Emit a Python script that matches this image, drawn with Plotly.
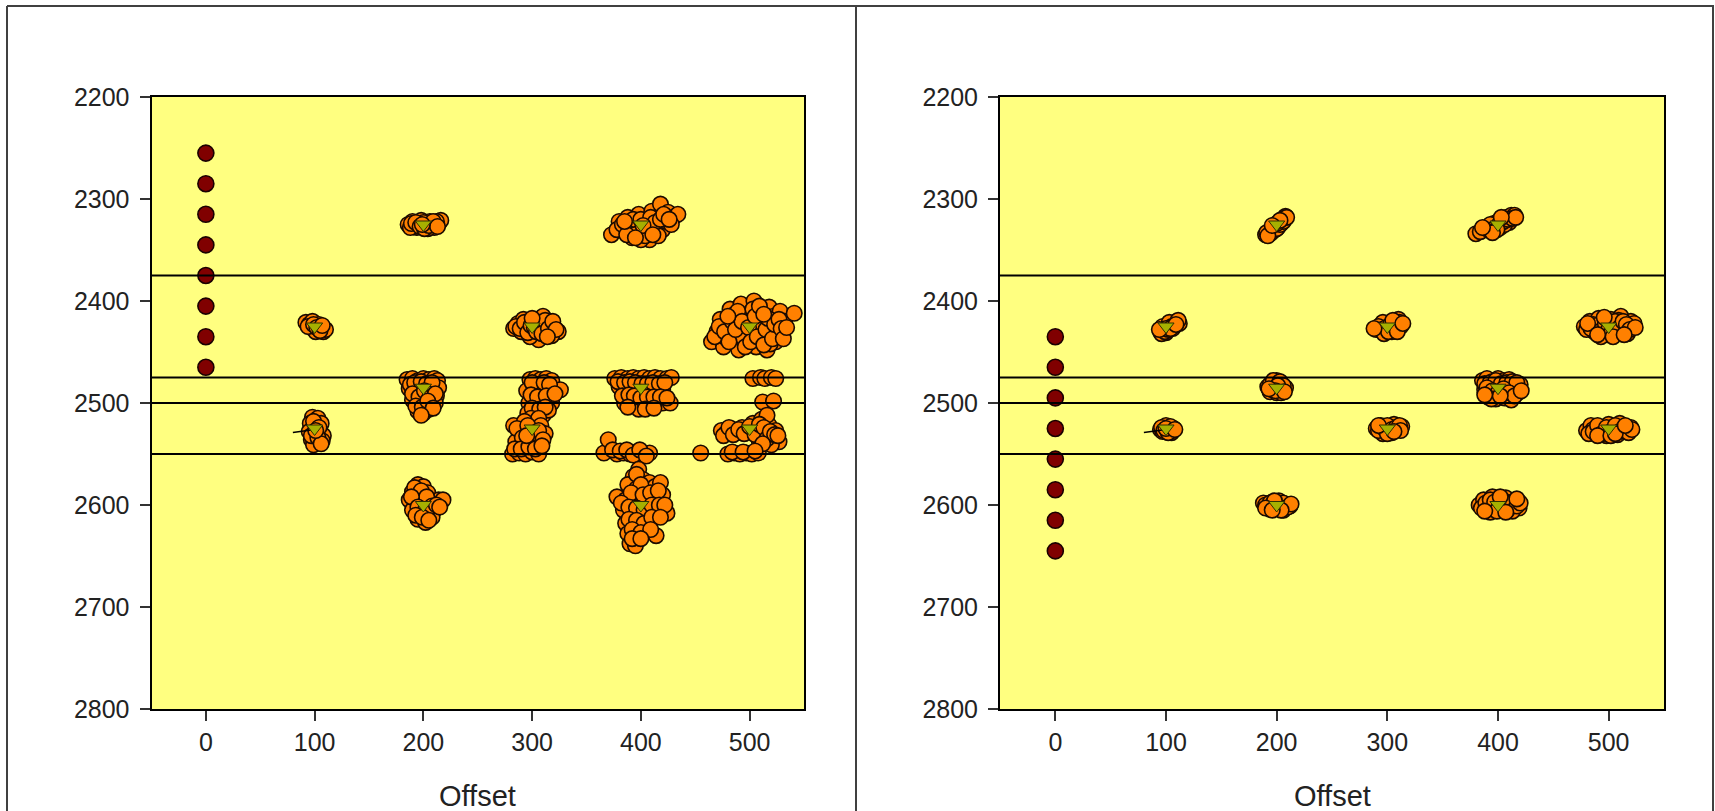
import plotly.graph_objects as go

# ---------------- data ----------------
offset_ticks = [0, 100, 200, 300, 400, 500]
depth_ticks = [2200, 2300, 2400, 2500, 2600, 2700, 2800]
ref_levels = [2375, 2475, 2500, 2550]

tri_x = [100, 100, 200, 200, 200, 300, 300, 400, 400, 400, 500, 500]
tri_y = [2425, 2525, 2325, 2485, 2600, 2425, 2525, 2325, 2485, 2600, 2425, 2525]

left_red_y = [2255, 2285, 2315, 2345, 2375, 2405, 2435, 2465]
right_red_y = [2435, 2465, 2495, 2525, 2555, 2585, 2615, 2645]

short_line = [(80, 2529), (100, 2526)]

# left panel clusters
L_200_2325 = [(186,2325),(190,2322),(194,2328),(198,2321),(202,2326),(206,2322),(210,2328),(214,2324),(216,2321),(192,2327),(204,2329),(200,2323),(196,2325),(208,2325),(188,2328),(212,2322),
              (189,2324),(193,2323),(197,2327),(201,2329),(205,2326),(209,2322),(213,2327),(199,2325)]
L_400_2325 = [(373,2335),(380,2322),(385,2330),(388,2318),(392,2338),(395,2326),(398,2315),(402,2332),(405,2322),(408,2340),(410,2312),(412,2328),(415,2318),(418,2305),(420,2330),(423,2322),(425,2313),(430,2318),(434,2315),(400,2340),(390,2325),(416,2336),(406,2327),(397,2333),(428,2325),
              (378,2330),(383,2325),(387,2335),(393,2320),(400,2320),(404,2336),(409,2318),(413,2323),(418,2320),(421,2315),(426,2320),(402,2326),(395,2338),(411,2335),(385,2322)]
L_100_2425 = [(92,2421),(95,2423),(98,2420),(100,2425),(103,2428),(106,2426),(108,2430),(110,2428),(97,2426),(104,2423),(101,2430),
              (94,2425),(99,2423),(102,2426),(105,2429),(107,2424)]
L_300_2425 = [(283,2427),(287,2422),(290,2430),(294,2425),(297,2419),(300,2428),(303,2433),(305,2418),(308,2425),(310,2415),(313,2430),(316,2420),(320,2426),(324,2430),(306,2438),(298,2435),(292,2418),(318,2434),(311,2424),(301,2421),
              (285,2425),(289,2427),(293,2421),(296,2431),(299,2424),(302,2426),(304,2430),(307,2421),(309,2432),(312,2419),(315,2427),(319,2420),(322,2428),(300,2417),(314,2435)]
L_500_2425 = [(465,2440),(470,2430),(473,2418),(476,2445),(480,2425),(482,2408),(485,2435),(488,2418),(490,2448),(492,2403),(495,2428),(497,2440),(498,2413),(500,2420),(502,2432),(504,2400),(506,2445),(508,2425),(510,2412),(512,2436),(514,2420),(516,2448),(518,2406),(520,2430),(522,2415),(524,2440),(526,2425),(528,2410),(530,2432),(532,2420),(541,2412),(486,2413),(494,2436),(478,2436),(511,2428),(503,2408),(519,2442),(525,2432),
              (468,2435),(472,2425),(477,2430),(481,2440),(484,2420),(487,2428),(489,2410),(493,2420),(496,2445),(499,2426),(501,2440),(505,2415),(507,2435),(509,2405),(513,2443),(515,2428),(517,2417),(521,2437),(523,2423),(527,2418),(529,2427),(531,2437),(534,2426),(513,2413),(480,2415)]
L_100_2525 = [(98,2514),(103,2515),(96,2520),(101,2522),(106,2520),(95,2528),(100,2530),(105,2527),(108,2532),(97,2536),(102,2538),(107,2537),(99,2541),
              (99,2518),(104,2524),(97,2532),(103,2534),(106,2540),(101,2527)]
L_200_2485 = [(185,2477),(190,2476),(195,2478),(200,2476),(205,2477),(210,2476),(213,2478),(187,2486),(193,2490),(198,2484),(203,2492),(208,2488),(212,2493),(190,2497),(196,2500),(201,2498),(206,2502),(211,2500),(195,2508),(200,2510),(205,2506),(188,2482),(214,2485),
              (192,2480),(198,2479),(203,2481),(208,2480),(190,2491),(196,2494),(201,2488),(206,2495),(211,2491),(193,2503),(199,2504),(204,2498),(209,2505),(198,2512)]
L_200_2600 = [(195,2580),(200,2582),(190,2587),(197,2590),(204,2588),(187,2595),(193,2597),(200,2600),(207,2597),(214,2595),(218,2595),(190,2605),(197,2607),(203,2610),(210,2605),(195,2614),(202,2617),(208,2612),
              (192,2583),(198,2586),(203,2592),(189,2592),(195,2602),(202,2605),(208,2601),(212,2600),(193,2610),(199,2612),(205,2615),(215,2602)]
L_300_2500 = [(298,2477),(303,2476),(308,2477),(313,2476),(318,2478),(295,2488),(302,2485),(310,2490),(317,2486),(326,2487),(306,2482),(297,2500),(302,2498),(308,2502),(313,2497),(318,2500),(296,2510),(303,2508),(310,2512),(315,2507),
              (300,2480),(311,2480),(316,2482),(299,2492),(305,2494),(313,2493),(321,2491),(300,2505),(307,2506),(312,2504),(299,2515),(306,2515)]
L_300_2525 = [(283,2522),(288,2530),(293,2518),(298,2527),(303,2533),(308,2522),(312,2530),(285,2538),(292,2540),(300,2537),(282,2550),(288,2549),(294,2550),(300,2548),(306,2550),
              (286,2525),(291,2534),(296,2522),(301,2530),(306,2527),(310,2536),(284,2545),(290,2545),(297,2543),(303,2545),(309,2542),(295,2532)]
L_400_2485 = [(376,2476),(382,2475),(388,2476),(393,2475),(398,2476),(403,2475),(408,2476),(413,2475),(418,2476),(424,2476),(428,2475),(380,2484),(386,2488),(392,2482),(397,2487),(403,2485),(409,2489),(415,2483),(420,2487),(385,2500),(390,2498),(395,2500),(400,2502),(405,2499),(410,2500),(415,2499),(420,2500),(427,2500),(398,2506),
              (379,2479),(385,2480),(390,2479),(395,2480),(401,2481),(406,2481),(411,2480),(417,2481),(422,2480),(383,2493),(389,2492),(394,2493),(400,2495),(406,2494),(412,2494),(418,2494),(424,2495),(388,2504),(404,2506),(412,2505)]
L_400_2550 = [(366,2549),(370,2536),(378,2550),(384,2549),(390,2550),(396,2548),(402,2550),(408,2549),
              (374,2546),(381,2547),(387,2546),(393,2551),(399,2546),(405,2552)]
L_400_2600 = [(398,2565),(393,2572),(402,2575),(408,2578),(388,2580),(396,2584),(405,2585),(413,2582),(418,2578),(378,2592),(386,2595),(393,2598),(400,2600),(407,2596),(414,2593),(420,2590),(384,2605),(391,2610),(398,2607),(405,2612),(412,2606),(424,2608),(386,2618),(393,2620),(400,2622),(408,2617),(388,2628),(396,2630),(404,2626),(414,2630),(390,2638),(395,2640),
              (396,2570),(400,2580),(391,2588),(402,2590),(409,2588),(416,2586),(382,2598),(389,2602),(396,2603),(403,2605),(410,2600),(417,2600),(422,2600),(389,2614),(396,2615),(403,2618),(410,2612),(418,2612),(392,2624),(400,2627),(409,2624),(392,2633),(400,2633)]
L_500_2500 = [(503,2476),(510,2475),(514,2476),(520,2475),(524,2476),(512,2499),(522,2498)]
L_500_2525 = [(474,2527),(478,2530),(483,2525),(488,2529),(493,2524),(498,2528),(503,2520),(507,2526),(511,2516),(514,2530),(518,2522),(521,2534),(524,2527),(527,2538),(516,2512),(509,2538),(480,2550),(486,2549),(491,2550),(497,2549),(502,2550),(508,2549),(520,2541),(455,2549),
              (476,2532),(481,2524),(485,2531),(490,2526),(495,2530),(500,2523),(505,2531),(509,2521),(513,2524),(516,2535),(519,2528),(523,2531),(526,2532),(512,2540),(484,2548),(494,2548),(505,2547)]

# right panel clusters
R_100_2425 = [(95,2430),(98,2428),(101,2426),(104,2424),(107,2422),(110,2420),(100,2431),(106,2427),(112,2422),(97,2425),(103,2421),
              (96,2432),(99,2430),(102,2428),(105,2425),(108,2424),(111,2419),(100,2427),(104,2427),(109,2423),(94,2428)]
R_100_2525 = [(95,2526),(99,2524),(103,2527),(107,2525),(100,2522),(105,2529),(97,2528),
              (96,2524),(98,2527),(101,2526),(104,2523),(106,2527),(102,2529),(100,2525),(108,2526)]
R_200_2325 = [(190,2335),(193,2332),(196,2329),(199,2326),(202,2323),(205,2320),(208,2317),(195,2333),(201,2328),(204,2324),(198,2330),(207,2319),
              (191,2333),(194,2334),(197,2331),(200,2329),(203,2325),(206,2322),(209,2318),(192,2336),(200,2324),(203,2321),(196,2326)]
R_400_2325 = [(380,2334),(388,2330),(392,2327),(396,2324),(400,2322),(404,2320),(408,2318),(412,2316),(415,2316),(394,2331),(402,2328),(410,2323),(398,2326),(406,2325),
              (384,2332),(390,2329),(393,2325),(397,2329),(401,2325),(405,2322),(409,2320),(413,2319),(416,2318),(399,2330),(403,2318),(395,2333),(386,2328)]
R_300_2425 = [(290,2428),(294,2424),(298,2430),(302,2426),(306,2422),(310,2418),(312,2425),(296,2421),(304,2430),(308,2428),
              (292,2425),(295,2428),(299,2426),(303,2423),(307,2425),(311,2421),(297,2432),(301,2430),(305,2419),(309,2430),(314,2422),(288,2427)]
R_500_2425 = [(478,2425),(483,2420),(487,2430),(491,2417),(495,2427),(499,2433),(502,2418),(505,2424),(508,2430),(511,2415),(514,2425),(517,2432),(520,2420),(523,2422),(493,2435),(509,2419),(486,2423),
              (480,2428),(484,2427),(489,2424),(492,2430),(497,2422),(500,2428),(503,2430),(506,2420),(510,2426),(513,2420),(516,2423),(519,2428),(524,2426),(481,2422),(496,2416),(504,2435),(514,2433),(490,2433)]
R_200_2485 = [(192,2484),(196,2480),(200,2478),(204,2481),(208,2485),(194,2489),(200,2490),(206,2488),(198,2484),(202,2486),
              (194,2482),(197,2478),(203,2479),(206,2483),(196,2487),(201,2483),(204,2490),(199,2488),(207,2489),(193,2486)]
R_400_2485 = [(386,2478),(390,2476),(395,2479),(400,2476),(405,2478),(410,2477),(388,2487),(393,2490),(398,2485),(403,2488),(408,2484),(413,2486),(418,2490),(420,2482),(391,2494),(398,2496),(406,2495),(412,2497),
              (388,2481),(393,2480),(398,2478),(403,2481),(408,2480),(413,2479),(417,2480),(390,2485),(395,2488),(400,2490),(405,2486),(410,2490),(415,2493),(394,2496),(402,2493),(388,2492),(421,2488)]
R_300_2525 = [(290,2525),(294,2522),(298,2527),(302,2524),(306,2521),(310,2526),(313,2523),(296,2530),(304,2529),
              (292,2527),(296,2524),(300,2522),(304,2526),(308,2524),(311,2522),(312,2527),(300,2530),(292,2522),(306,2528)]
R_500_2525 = [(480,2527),(484,2522),(488,2530),(492,2524),(496,2528),(500,2521),(504,2526),(508,2531),(512,2523),(516,2527),(520,2524),(486,2526),(498,2532),(510,2520),
              (482,2530),(486,2528),(490,2522),(494,2530),(498,2524),(502,2528),(506,2522),(510,2528),(514,2524),(518,2529),(521,2526),(490,2532),(502,2532),(506,2530),(515,2522)]
R_200_2600 = [(188,2598),(192,2601),(196,2597),(200,2600),(204,2602),(208,2599),(212,2601),(194,2604),(202,2596),(206,2605),
              (190,2600),(194,2598),(198,2602),(202,2603),(206,2598),(210,2602),(213,2599),(198,2596),(204,2605),(190,2603),(196,2605)]
R_400_2600 = [(383,2600),(387,2595),(391,2603),(395,2592),(399,2598),(403,2605),(407,2593),(411,2600),(415,2596),(419,2603),(393,2607),(405,2600),(397,2603),(413,2606),
              (385,2603),(389,2598),(393,2595),(397,2597),(401,2602),(405,2596),(409,2604),(413,2598),(417,2601),(420,2598),(399,2606),(407,2607),(388,2606),(402,2592),(417,2594)]

left_clusters = [L_200_2325, L_400_2325, L_100_2425, L_300_2425, L_500_2425, L_100_2525,
                 L_200_2485, L_200_2600, L_300_2500, L_300_2525, L_400_2485, L_400_2550,
                 L_400_2600, L_500_2500, L_500_2525]
right_clusters = [R_100_2425, R_100_2525, R_200_2325, R_400_2325, R_300_2425, R_500_2425,
                  R_200_2485, R_400_2485, R_300_2525, R_500_2525, R_200_2600, R_400_2600]

# ---------------- style ----------------
W, H = 1715, 811
FONT = "Liberation Sans, Arial, sans-serif"
YELLOW = "#FFFF80"
ORANGE = "#FF8000"
DARKRED = "#800000"
OLIVE = "#A6B000"

panels = [
    dict(clusters=left_clusters, red_y=left_red_y, xa="x", ya="y", px=(151.5, 804)),
    dict(clusters=right_clusters, red_y=right_red_y, xa="x2", ya="y2", px=(1000, 1664)),
]
py_top, py_bot = 97, 709

fig = go.Figure()
for p in panels:
    xs = [pt[0] for c in p["clusters"] for pt in c]
    ys = [pt[1] for c in p["clusters"] for pt in c]
    fig.add_trace(go.Scatter(x=xs, y=ys, mode="markers", xaxis=p["xa"], yaxis=p["ya"],
                             marker=dict(size=15.5, color=ORANGE, line=dict(color="#1a0a00", width=1.6)),
                             showlegend=False, hoverinfo="skip"))
    fig.add_trace(go.Scatter(x=[0] * len(p["red_y"]), y=p["red_y"], mode="markers",
                             xaxis=p["xa"], yaxis=p["ya"],
                             marker=dict(size=16, color=DARKRED, line=dict(color="#1a0000", width=1.6)),
                             showlegend=False, hoverinfo="skip"))
    fig.add_trace(go.Scatter(x=[q[0] for q in short_line], y=[q[1] for q in short_line], mode="lines",
                             xaxis=p["xa"], yaxis=p["ya"], line=dict(color="black", width=1.5),
                             showlegend=False, hoverinfo="skip"))
    fig.add_trace(go.Scatter(x=tri_x, y=tri_y, mode="markers", xaxis=p["xa"], yaxis=p["ya"],
                             marker=dict(symbol="triangle-down", size=14, color=OLIVE,
                                         line=dict(color="#303000", width=1)),
                             showlegend=False, hoverinfo="skip"))
    for lvl in ref_levels:
        fig.add_trace(go.Scatter(x=[-50, 550], y=[lvl, lvl], mode="lines", xaxis=p["xa"], yaxis=p["ya"],
                                 line=dict(color="black", width=2), showlegend=False, hoverinfo="skip"))

def xaxis(px):
    return dict(domain=[px[0] / W, px[1] / W], range=[-50, 550], tickvals=offset_ticks,
                ticks="outside", ticklen=10, tickwidth=2, tickcolor="#333",
                showline=True, linecolor="black", linewidth=2, mirror=True,
                showgrid=False, zeroline=False, automargin=False,
                tickfont=dict(family=FONT, size=25, color="#222"))

def yaxis(anchor):
    return dict(domain=[1 - py_bot / H, 1 - py_top / H], range=[2800, 2200], tickvals=depth_ticks,
                ticks="outside", ticklen=10, tickwidth=2, tickcolor="#333",
                showline=True, linecolor="black", linewidth=2, mirror=True,
                showgrid=False, zeroline=False, automargin=False, anchor=anchor,
                ticklabelstandoff=5,
                tickfont=dict(family=FONT, size=25, color="#222"))

fig.update_layout(
    width=W, height=H, autosize=False,
    margin=dict(l=0, r=0, t=0, b=0),
    paper_bgcolor="white", plot_bgcolor=YELLOW,
    xaxis=dict(xaxis(panels[0]["px"]), anchor="y"),
    yaxis=yaxis("x"),
    xaxis2=dict(xaxis(panels[1]["px"]), anchor="y2"),
    yaxis2=yaxis("x2"),
    showlegend=False,
)

for p in panels:
    cx = (p["px"][0] + p["px"][1]) / 2 / W
    fig.add_annotation(text="Offset", x=cx, y=(H - 795.5) / H, xref="paper", yref="paper",
                       xanchor="center", yanchor="middle", showarrow=False,
                       font=dict(family=FONT, size=29, color="#222"))

# outer frame
border = dict(color="#404040", width=2)
for x0, y0, x1, y1 in [(7, 6, 1714, 6), (7, 6, 7, 811), (1713, 6, 1713, 811), (856, 6, 856, 811)]:
    fig.add_shape(type="line", xref="paper", yref="paper",
                  x0=x0 / W, x1=x1 / W, y0=1 - y0 / H, y1=1 - y1 / H, line=border)

fig.write_html("out.html")
